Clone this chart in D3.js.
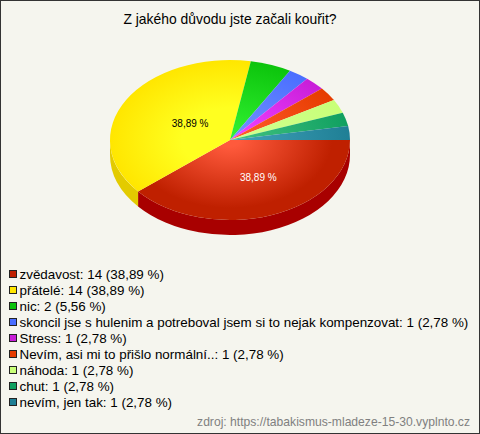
<!DOCTYPE html>
<html><head><meta charset="utf-8">
<script src="https://cdn.jsdelivr.net/npm/d3@7"></script>
<style>html,body{margin:0;padding:0;background:#f5f5ee}svg{display:block}text{font-family:"Liberation Sans",Arial,sans-serif}</style>
</head><body><svg id="c" width="480" height="434"></svg>
<script>
const title = "Z jakého důvodu jste začali kouřit?";
const categories = ["zvědavost","přátelé","nic","skoncil jse s hulenim a potreboval jsem si to nejak kompenzovat","Stress","Nevím, asi mi to přišlo normální..","náhoda","chut","nevím, jen tak"];
const counts = [14,14,2,1,1,1,1,1,1];
const percents = ["38,89","38,89","5,56","2,78","2,78","2,78","2,78","2,78","2,78"];
const baseColors = ["#bf2000","#ffe600","#0cc40c","#4a6eff","#c81ed8","#e63c00","#c8ff78","#10a060","#1f7f95"];
const lightColors = ["#ff5a3c","#ffff20","#30f030","#7090ff","#f040ff","#ff5a28","#d0ff90","#40c080","#40a0b8"];
const wallColors = ["#a80000","#e3cb00","#0a9a0a","#3a55c8","#a018a8","#b83000","#a0cc60","#0c8048","#186474"];
const labelColors = ["#ffffff","#000000"];
const source = "zdroj: https://tabakismus-mladeze-15-30.vyplnto.cz";

const svg = d3.select("#c");
svg.append("rect").attr("x",0.5).attr("y",0.5).attr("width",479).attr("height",433).attr("fill","#f5f5ee").attr("stroke","#333");
svg.append("text").attr("x",230).attr("y",24).attr("text-anchor","middle").attr("font-size",13.9).attr("fill","#000").text(title);

const cx=230, cy=140, rx=120, ry=80, depth=15;
const pie = d3.pie().sort(null).startAngle(Math.PI/2).endAngle(Math.PI*2.5);
const arcs = pie(counts);
const arc = d3.arc().innerRadius(0).outerRadius(rx);
const px = a => rx*Math.sin(a), py = a => -ry*Math.cos(a);

const defs = svg.append("defs");
arcs.forEach((d,i)=>{
  const g = defs.append("radialGradient").attr("id","g"+i).attr("gradientUnits","userSpaceOnUse")
    .attr("cx",0).attr("cy",0).attr("r",rx);
  g.append("stop").attr("offset","0%").attr("stop-color",lightColors[i]);
  g.append("stop").attr("offset",i==1?"40%":"8%").attr("stop-color",lightColors[i]);
  g.append("stop").attr("offset",i==0?"85%":"100%").attr("stop-color",baseColors[i]);
});
const root = svg.append("g").attr("transform",`translate(${cx},${cy})`);
arcs.forEach((d,i)=>{
  const a0=Math.max(d.startAngle,Math.PI/2), a1=Math.min(d.endAngle,Math.PI*1.5);
  if(a1<=a0) return;
  const dd=`M${px(a0)},${py(a0)}A${rx},${ry} 0 0 1 ${px(a1)},${py(a1)}L${px(a1)},${py(a1)+depth}A${rx},${ry} 0 0 0 ${px(a0)},${py(a0)+depth}Z`;
  root.append("path").attr("d",dd).attr("fill",wallColors[i]);
});
const face = root.append("g").attr("transform",`scale(1,${ry/rx})`);
face.selectAll("path").data(arcs).join("path").attr("d",arc).attr("fill",(d,i)=>`url(#g${i})`);
arcs.slice(0,2).forEach((d,i)=>{
  const m=(d.startAngle+d.endAngle)/2;
  root.append("text").attr("x",px(m)*0.47+9).attr("y",py(m)*0.47+6).attr("text-anchor","middle")
    .attr("font-size",10).attr("fill",labelColors[i]).text(percents[i]+" %");
});
const y = d3.scaleBand().domain(d3.range(categories.length)).range([266,410]);
const lg = svg.selectAll("g.l").data(categories).join("g").attr("class","l");
lg.append("rect").attr("x",9.5).attr("y",(d,i)=>y(i)+4.5).attr("width",7).attr("height",7)
  .attr("fill",(d,i)=>baseColors[i]).attr("stroke","#222");
lg.append("text").attr("x",19.5).attr("y",(d,i)=>y(i)+13).attr("font-size",13.4).attr("fill","#000")
  .text((d,i)=>`${d}: ${counts[i]} (${percents[i]} %)`);
svg.append("text").attr("x",470).attr("y",426).attr("text-anchor","end").attr("font-size",12.13).attr("fill","#808080").text(source);
</script></body></html>
